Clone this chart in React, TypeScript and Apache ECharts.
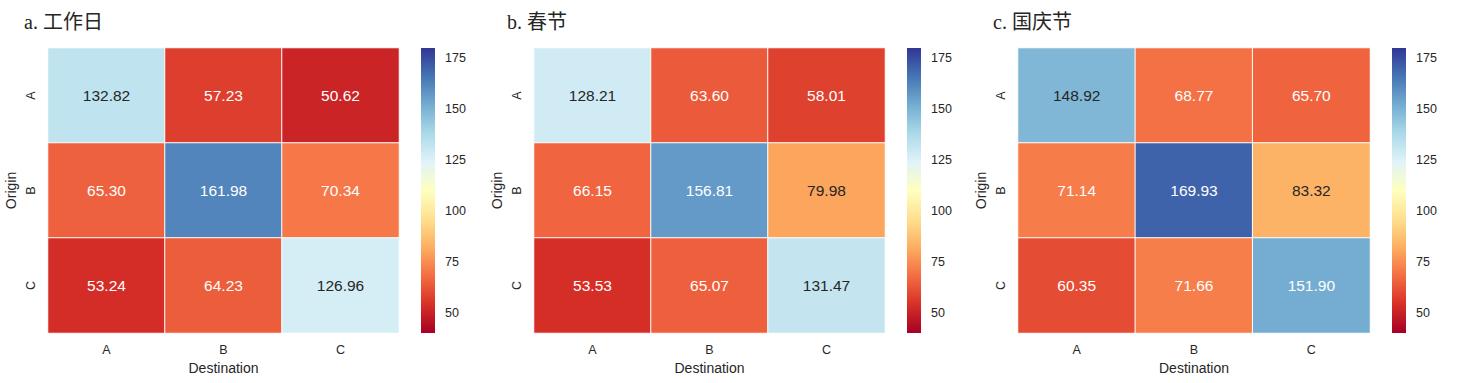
import React, { useEffect, useRef } from "react";
import * as echarts from "echarts";

const categories = ["A", "B", "C"];
const panelTitles = ["a. 工作日", "b. 春节", "c. 国庆节"];
// rows = Origin (A, B, C), columns = Destination (A, B, C)
const workdayValues = [
  [132.82, 57.23, 50.62],
  [65.3, 161.98, 70.34],
  [53.24, 64.23, 126.96],
];
const springValues = [
  [128.21, 63.6, 58.01],
  [66.15, 156.81, 79.98],
  [53.53, 65.07, 131.47],
];
const nationalValues = [
  [148.92, 68.77, 65.7],
  [71.14, 169.93, 83.32],
  [60.35, 71.66, 151.9],
];
const colorbarTicks = [50, 75, 100, 125, 150, 175];
const VMIN = 40;
const VMAX = 180;

const RDYLBU = [
  "#a50026", "#d73027", "#f46d43", "#fdae61", "#fee090", "#ffffbf",
  "#e0f3f8", "#abd9e9", "#74add1", "#4575b4", "#313695",
];

function hexToRgb(h: string) {
  return [parseInt(h.slice(1, 3), 16), parseInt(h.slice(3, 5), 16), parseInt(h.slice(5, 7), 16)];
}
function cmap(v: number) {
  let t = (v - VMIN) / (VMAX - VMIN);
  t = Math.max(0, Math.min(1, t));
  const pos = t * (RDYLBU.length - 1);
  const i = Math.min(Math.floor(pos), RDYLBU.length - 2);
  const f = pos - i;
  const a = hexToRgb(RDYLBU[i]);
  const b = hexToRgb(RDYLBU[i + 1]);
  return a.map((c, k) => c + (b[k] - c) * f);
}
function textColorFor(v: number) {
  const rgb = cmap(v).map((c) => {
    const x = c / 255;
    return x <= 0.03928 ? x / 12.92 : Math.pow((x + 0.055) / 1.055, 2.4);
  });
  const lum = 0.2126 * rgb[0] + 0.7152 * rgb[1] + 0.0722 * rgb[2];
  return lum > 0.408 ? "#262626" : "#ffffff";
}

const SANS = "'Liberation Sans', Arial, sans-serif";
const SERIF = "'Liberation Serif', 'Noto Sans CJK SC', serif";
const TEXT = "#262626";

const panels = [
  { values: workdayValues, gridLeft: 48, gridWidth: 351, cbLeft: 421, titleLeft: 24 },
  { values: springValues, gridLeft: 534, gridWidth: 351, cbLeft: 907, titleLeft: 507 },
  { values: nationalValues, gridLeft: 1018, gridWidth: 352, cbLeft: 1392, titleLeft: 993 },
];
const GRID_TOP = 48;
const GRID_H = 285;
const CB_W = 14;

export default function App() {
  const ref = useRef<HTMLDivElement>(null);
  useEffect(() => {
    document.body.style.margin = "0";
    if (!ref.current) return;
    const chart = echarts.init(ref.current, undefined, { renderer: "svg" });

    const grids: any[] = [];
    const xAxes: any[] = [];
    const yAxes: any[] = [];
    const series: any[] = [];
    const titles: any[] = [];
    const graphics: any[] = [];

    panels.forEach((p, pi) => {
      const gi = grids.length;
      grids.push({ left: p.gridLeft, top: GRID_TOP, width: p.gridWidth, height: GRID_H, containLabel: false });
      xAxes.push({
        type: "category",
        gridIndex: gi,
        data: categories,
        name: "Destination",
        nameLocation: "middle",
        nameGap: 28,
        nameTextStyle: { fontFamily: SANS, fontSize: 14, color: TEXT },
        axisLine: { show: false },
        axisTick: { show: false },
        splitLine: { show: false },
        axisLabel: { fontFamily: SANS, fontSize: 12.5, color: TEXT, margin: 10 },
      });
      yAxes.push({
        type: "category",
        gridIndex: gi,
        data: categories,
        inverse: true,
        name: "Origin",
        nameLocation: "middle",
        nameGap: 30,
        nameTextStyle: { fontFamily: SANS, fontSize: 14, color: TEXT },
        axisLine: { show: false },
        axisTick: { show: false },
        splitLine: { show: false },
        axisLabel: { fontFamily: SANS, fontSize: 12.5, color: TEXT, rotate: 90, margin: 11 },
      });
      const data: any[] = [];
      p.values.forEach((row, r) =>
        row.forEach((v, c) => {
          data.push({ value: [c, r, v], label: { color: textColorFor(v) } });
        })
      );
      series.push({
        type: "heatmap",
        xAxisIndex: gi,
        yAxisIndex: gi,
        data,
        itemStyle: { borderColor: "#ffffff", borderWidth: 1 },
        label: {
          show: true,
          fontFamily: SANS,
          fontSize: 15.5,
          formatter: (prm: any) => Number(prm.value[2]).toFixed(2),
        },
      });

      // colorbar axis
      const ci = grids.length;
      grids.push({ left: p.cbLeft, top: GRID_TOP, width: CB_W, height: GRID_H });
      xAxes.push({ type: "value", gridIndex: ci, show: false, min: 0, max: 1 });
      yAxes.push({
        type: "value",
        gridIndex: ci,
        min: VMIN,
        max: VMAX,
        position: "right",
        axisLine: { show: false },
        axisTick: { show: false },
        splitLine: { show: false },
        axisLabel: {
          customValues: colorbarTicks,
          fontFamily: SANS,
          fontSize: 12.5,
          color: TEXT,
          margin: 10,
        },
      });
      graphics.push({
        type: "rect",
        left: p.cbLeft,
        top: GRID_TOP,
        shape: { width: CB_W, height: GRID_H },
        style: {
          fill: new echarts.graphic.LinearGradient(
            0, 1, 0, 0,
            RDYLBU.map((c, i) => ({ offset: i / (RDYLBU.length - 1), color: c }))
          ),
        },
        z: 0,
      });

      titles.push({
        text: panelTitles[pi],
        left: p.titleLeft,
        top: 12,
        padding: 0,
        textStyle: { fontFamily: SERIF, fontSize: 20, fontWeight: "normal", color: TEXT },
      });
    });

    chart.setOption({
      animation: false,
      backgroundColor: "#ffffff",
      title: titles,
      grid: grids,
      xAxis: xAxes,
      yAxis: yAxes,
      visualMap: {
        show: false,
        type: "continuous",
        min: VMIN,
        max: VMAX,
        dimension: 2,
        seriesIndex: [0, 1, 2],
        inRange: { color: RDYLBU },
      },
      series,
      graphic: graphics,
    });
    return () => chart.dispose();
  }, []);
  return <div ref={ref} style={{ width: 1464, height: 383 }} />;
}
